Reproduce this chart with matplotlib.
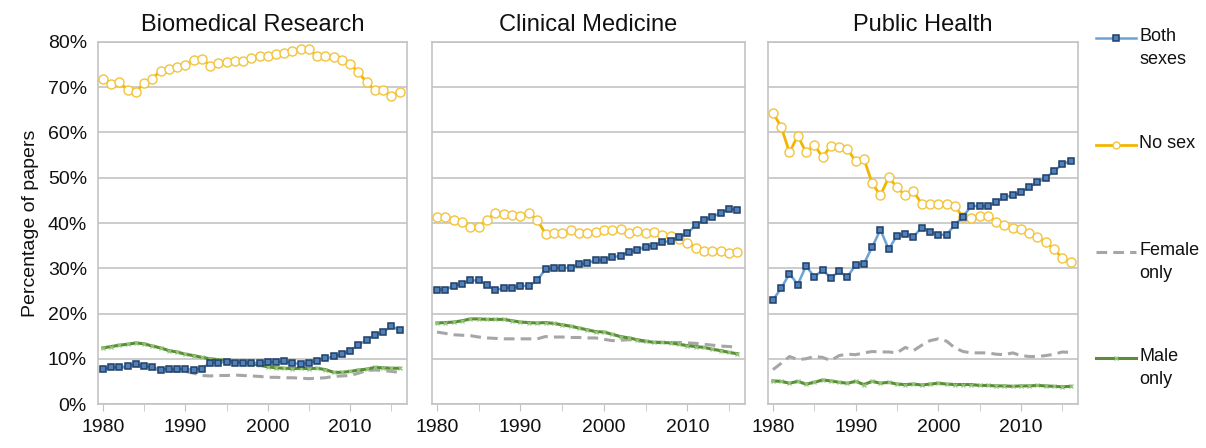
import matplotlib
matplotlib.use("Agg")
import matplotlib.pyplot as plt
from matplotlib.lines import Line2D
import numpy as np

plt.rcParams['font.family'] = ['Liberation Sans', 'DejaVu Sans']

years = list(range(1980, 2017))
panels = ["Biomedical Research", "Clinical Medicine", "Public Health"]
series_names = ["Both\nsexes", "No sex", "Female\nonly", "Male\nonly"]

# percentages, 1980..2016
bio_both = [7.8, 8.1, 8.1, 8.3, 8.8, 8.4, 8.1, 7.6, 7.7, 7.7, 7.7, 7.6, 7.8, 9.1, 9.1, 9.3, 9.1, 9.1, 9.1,
            9.1, 9.3, 9.3, 9.4, 9.1, 8.8, 9.1, 9.6, 10.1, 10.5, 11.0, 11.8, 13.0, 14.2, 15.2, 15.9, 17.2, 16.3]
bio_none = [71.9, 70.7, 71.1, 69.4, 69.0, 70.9, 71.9, 73.7, 74.1, 74.4, 75.0, 76.1, 76.3, 74.8, 75.3, 75.6,
            75.8, 75.8, 76.5, 77.0, 76.8, 77.3, 77.6, 78.0, 78.5, 78.4, 76.8, 76.8, 76.7, 76.1, 75.2, 73.3,
            71.1, 69.4, 69.3, 68.0, 69.0]
bio_female = [7.8, 8.0, 8.1, 8.2, 8.5, 8.2, 7.9, 7.4, 7.3, 7.2, 7.2, 6.8, 6.3, 6.2, 6.3, 6.3, 6.4, 6.3, 6.2,
              6.1, 5.9, 5.9, 5.8, 5.8, 5.7, 5.6, 5.7, 5.8, 6.1, 6.2, 6.3, 6.8, 7.4, 7.5, 7.4, 7.2, 7.0]
bio_male = [12.4, 12.7, 13.0, 13.2, 13.5, 13.3, 12.8, 12.4, 11.8, 11.5, 11.0, 10.7, 10.3, 10.0, 9.8, 9.6, 9.3,
            9.2, 8.9, 8.6, 8.2, 8.0, 7.9, 7.8, 7.9, 7.8, 7.9, 7.6, 7.0, 7.0, 7.2, 7.5, 7.7, 8.1, 8.0, 7.9, 7.9]

cli_both = [25.3, 25.3, 26.1, 26.6, 27.3, 27.3, 26.3, 25.1, 25.7, 25.7, 26.1, 26.1, 27.3, 29.8, 30.0, 30.1,
            30.1, 30.9, 31.1, 31.8, 31.8, 32.5, 32.7, 33.7, 34.0, 34.8, 35.0, 35.7, 36.1, 37.0, 37.7, 39.6,
            40.7, 41.4, 42.2, 43.1, 42.8]
cli_none = [41.4, 41.4, 40.7, 40.3, 39.2, 39.2, 40.7, 42.2, 41.9, 41.8, 41.5, 42.1, 40.7, 37.6, 37.9, 37.9,
            38.4, 37.9, 37.9, 38.1, 38.4, 38.4, 38.7, 37.9, 38.3, 37.7, 38.1, 37.4, 37.1, 36.4, 35.6, 34.5,
            33.8, 33.9, 33.8, 33.4, 33.6]
cli_female = [15.9, 15.6, 15.3, 15.2, 15.1, 14.8, 14.6, 14.5, 14.4, 14.4, 14.4, 14.4, 14.4, 14.9, 14.8, 14.8,
              14.7, 14.7, 14.6, 14.6, 14.3, 14.0, 14.1, 14.2, 14.0, 13.8, 13.7, 13.6, 13.6, 13.6, 13.5, 13.4,
              13.2, 13.0, 12.8, 12.7, 12.5]
cli_male = [17.9, 18.0, 18.1, 18.4, 18.8, 18.8, 18.7, 18.7, 18.7, 18.4, 18.1, 18.0, 17.9, 18.0, 17.8, 17.5,
            17.2, 16.8, 16.4, 16.0, 15.9, 15.4, 14.9, 14.6, 14.2, 13.9, 13.6, 13.6, 13.5, 13.2, 12.9, 12.7,
            12.5, 12.1, 11.8, 11.4, 11.1]

ph_both = [23.0, 25.6, 28.8, 26.4, 30.5, 28.1, 29.6, 27.9, 29.3, 28.1, 30.7, 31.0, 34.7, 38.5, 34.2, 37.2,
           37.6, 37.0, 39.0, 38.1, 37.4, 37.4, 39.6, 41.4, 43.8, 43.7, 43.7, 44.6, 45.7, 46.1, 46.8, 47.9,
           49.0, 50.0, 51.4, 53.0, 53.7]
ph_none = [64.4, 61.2, 55.6, 59.3, 55.6, 57.3, 54.5, 57.1, 56.7, 56.4, 53.6, 54.2, 48.8, 46.1, 50.1, 47.9,
           46.1, 47.0, 44.2, 44.2, 44.2, 44.2, 43.7, 41.3, 41.1, 41.6, 41.6, 40.2, 39.6, 38.8, 38.6, 37.8,
           36.8, 35.7, 34.2, 32.2, 31.3]
ph_female = [7.6, 9.0, 10.5, 9.8, 10.0, 10.5, 10.3, 9.6, 10.7, 11.0, 10.9, 11.3, 11.6, 11.5, 11.5, 11.3, 12.5,
             11.8, 13.0, 14.0, 14.4, 13.9, 12.4, 11.6, 11.3, 11.3, 11.3, 11.0, 10.9, 11.3, 10.7, 10.5, 10.5,
             10.7, 11.0, 11.5, 11.4]
ph_male = [5.1, 5.0, 4.6, 5.0, 4.4, 4.8, 5.3, 5.1, 4.8, 4.6, 5.0, 4.3, 5.0, 4.6, 4.8, 4.4, 4.3, 4.4, 4.2, 4.4,
           4.6, 4.4, 4.3, 4.3, 4.3, 4.1, 4.1, 4.0, 4.0, 3.9, 4.0, 4.0, 4.1, 4.0, 3.9, 3.8, 3.9]

data = [
    [bio_both, bio_none, bio_female, bio_male],
    [cli_both, cli_none, cli_female, cli_male],
    [ph_both, ph_none, ph_female, ph_male],
]

styles = [
    dict(color='#6aa3d8', lw=1.8, marker='s', ms=5, mfc='#4f82bd', mec='#1f3e66', mew=1.1),
    dict(color='#f2b500', lw=2.0, marker='o', ms=6.5, mfc='white', mec='#f3c43a', mew=1.0),
    dict(color='#a6a6a6', lw=2.2, ls=(0, (3.5, 2))),
    dict(color='#5a8c3a', lw=2.2, marker='x', ms=3, mec='#95c878', mew=0.9),
]
draw_order = [2, 3, 1, 0]

W, H = 1206, 448
fig = plt.figure(figsize=(W / 100, H / 100), dpi=100)

boxes = [(98, 407), (432, 745), (768, 1078)]
top, bottom = 42, 404
grid_c = '#c3c3c3'

for i, (x0, x1) in enumerate(boxes):
    ax = fig.add_axes([x0 / W, (H - bottom) / H, (x1 - x0) / W, (bottom - top) / H])
    x = np.array(years)
    for k in draw_order:
        ax.plot(x, np.array(data[i][k]) / 100, zorder=3 + k * 0.1 if k != 0 else 4, **styles[k])
    ax.set_xlim(1979.4, 2016.9)
    ax.set_ylim(0, 0.8)
    ax.set_yticks(np.arange(0, 0.81, 0.1))
    ax.yaxis.grid(True, color=grid_c, lw=1.2)
    ax.set_axisbelow(True)
    ax.set_xticks([1980, 1990, 2000, 2010])
    ax.set_xticks(np.arange(1980, 2017, 5), minor=True)
    ax.tick_params(axis='x', which='both', direction='out', length=5, color=grid_c,
                   labelsize=14, pad=6, labelcolor='#111111')
    ax.tick_params(axis='y', length=0, labelsize=14, pad=8, labelcolor='#111111')
    for s in ax.spines.values():
        s.set_color(grid_c)
        s.set_linewidth(1.2)
    if i == 0:
        ax.set_yticklabels([f"{int(round(v * 100))}%" for v in np.arange(0, 0.81, 0.1)])
        ax.set_ylabel("Percentage of papers", fontsize=14, labelpad=6, color='#111111')
    else:
        ax.set_yticklabels([])
    ax.set_title(panels[i], fontsize=17, pad=8, color='#111111')

# legend drawn on its own axes at the right
lx0 = 1092
lax = fig.add_axes([lx0 / W, 0, (W - lx0) / W, 1])
lax.set_xlim(lx0, W)
lax.set_ylim(H, 0)
lax.axis('off')
leg_y = [38, 145, 252, 358]
for k, y in enumerate(leg_y):
    st = dict(styles[k])
    st.pop('ms', None)
    ln = Line2D([1096, 1116, 1136], [y, y, y], markevery=[1],
                ms=5 if k != 3 else 3, **st)
    lax.add_line(ln)
    lax.text(1139, y - 10, series_names[k], fontsize=13, va='top', ha='left',
             linespacing=1.5, color='#111111')

fig.savefig("out.png", dpi=100)
